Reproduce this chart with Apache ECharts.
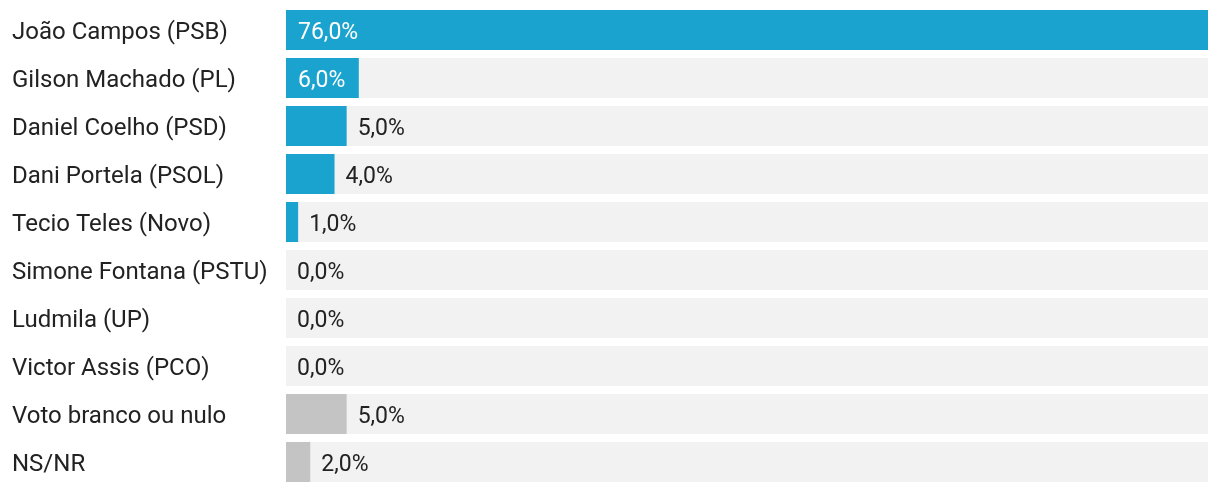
<!DOCTYPE html>
<html>
<head>
<meta charset="utf-8">
<style>
html,body{margin:0;padding:0;background:#fff;}
#chart{width:1220px;height:492px;}
</style>
<script src="https://cdn.jsdelivr.net/npm/echarts@6/dist/echarts.min.js"></script>
</head>
<body>
<div id="chart"></div>
<script>
const categories = ["João Campos (PSB)","Gilson Machado (PL)","Daniel Coelho (PSD)","Dani Portela (PSOL)","Tecio Teles (Novo)","Simone Fontana (PSTU)","Ludmila (UP)","Victor Assis (PCO)","Voto branco ou nulo","NS/NR"];
const values = [76,6,5,4,1,0,0,0,5,2];
const isCandidate = [true,true,true,true,true,true,true,true,false,false];

const BLUE = '#1aa3cf', GRAY = '#c4c4c4';
const fmt = v => v.toFixed(1).replace('.', ',') + '%';

const data = values.map((v,i) => {
  const inside = v >= 6;
  return {
    value: v,
    itemStyle: {color: isCandidate[i] ? BLUE : GRAY},
    label: inside
      ? {position: 'insideLeft', distance: 12, color: '#fff'}
      : {position: 'right', distance: 11, color: '#222'}
  };
});

const chart = echarts.init(document.getElementById('chart'));
chart.setOption({
  animation: false,
  grid: {left: 286, right: 12, top: 6, bottom: 6, containLabel: false},
  xAxis: {type: 'value', min: 0, max: 76, show: false},
  yAxis: {
    type: 'category', inverse: true, data: categories,
    axisLine: {show: false}, axisTick: {show: false},
    axisLabel: {
      align: 'left', margin: 274,
      formatter: v => '{a|' + v + '}',
      rich: {a: {fontFamily: 'Roboto', fontSize: 24, color: '#222', padding: [6, 0, 0, 0]}}
    }
  },
  series: [{
    type: 'bar', data: data, barWidth: 40,
    showBackground: true, backgroundStyle: {color: '#f2f2f2'},
    label: {show: true, fontFamily: 'Roboto', fontSize: 23, offset: [0, 3], formatter: p => fmt(p.value)}
  }]
});
</script>
</body>
</html>
